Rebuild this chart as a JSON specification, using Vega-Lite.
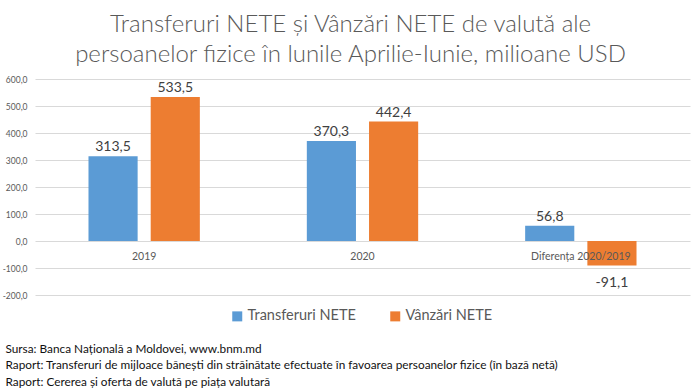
{
  "$schema": "https://vega.github.io/schema/vega-lite/v6.json",
  "width": 655,
  "height": 216,
  "autosize": {"type": "none"},
  "padding": {"left": 35, "top": 79, "right": 10, "bottom": 94},
  "background": "white",
  "config": {
    "locale": {"number": {"decimal": ",", "thousands": ".", "grouping": [3], "currency": ["", ""], "minus": "-"}},
    "view": {"stroke": null},
    "font": "Lato"
  },
  "title": {
    "text": ["Transferuri NETE și Vânzări NETE de valută ale", "persoanelor fizice în lunile Aprilie-Iunie, milioane USD"],
    "font": "Lato",
    "fontSize": 24,
    "fontWeight": 300,
    "color": "#595959",
    "lineHeight": 30,
    "anchor": "middle",
    "frame": "group",
    "dx": -12,
    "offset": 8
  },
  "data": {
    "values": [
      {"categorie": "2019", "serie": "Transferuri NETE", "valoare": 313.5},
      {"categorie": "2019", "serie": "Vânzări NETE", "valoare": 533.5},
      {"categorie": "2020", "serie": "Transferuri NETE", "valoare": 370.3},
      {"categorie": "2020", "serie": "Vânzări NETE", "valoare": 442.4},
      {"categorie": "Diferența 2020/2019", "serie": "Transferuri NETE", "valoare": 56.8},
      {"categorie": "Diferența 2020/2019", "serie": "Vânzări NETE", "valoare": -91.1}
    ]
  },
  "encoding": {
    "x": {
      "field": "categorie",
      "type": "nominal",
      "sort": null,
      "scale": {"paddingInner": 0.49, "paddingOuter": 0.245},
      "axis": {
        "orient": "bottom",
        "offset": -55,
        "domain": false,
        "ticks": false,
        "grid": false,
        "labelAngle": 0,
        "labelFont": "Lato",
        "labelFontSize": 10.5,
        "labelColor": "#595959",
        "labelPadding": 11,
        "zindex": 1,
        "title": ["Sursa: Banca Națională a Moldovei, www.bnm.md", "Raport: Transferuri de mijloace bănești din străinătate efectuate în favoarea persoanelor fizice (în bază netă)", "Raport: Cererea și oferta de valută pe piața valutară"],
        "titleFont": "Lato",
        "titleFontSize": 11.8,
        "titleFontWeight": "normal",
        "titleColor": "#111111",
        "titleAnchor": "start",
        "titleAlign": "left",
        "titleBaseline": "alphabetic",
        "titleX": -30,
        "titleY": 112,
        "titleLineHeight": 16.5
      }
    },
    "xOffset": {
      "field": "serie",
      "type": "nominal",
      "scale": {"paddingInner": 0.21, "paddingOuter": 0}
    },
    "y": {
      "field": "valoare",
      "type": "quantitative",
      "scale": {"domain": [-200, 600], "nice": false, "zero": false},
      "axis": {
        "values": [-200, -100, 0, 100, 200, 300, 400, 500, 600],
        "format": ".1f",
        "domain": false,
        "ticks": false,
        "gridColor": "#d9d9d9",
        "gridWidth": 1,
        "labelFont": "Lato",
        "labelFontSize": 8.5,
        "labelColor": "#595959",
        "labelPadding": 8,
        "title": null
      }
    }
  },
  "layer": [
    {
      "mark": {"type": "bar"},
      "encoding": {
        "color": {
          "field": "serie",
          "type": "nominal",
          "scale": {"domain": ["Transferuri NETE", "Vânzări NETE"], "range": ["#5B9BD5", "#ED7D31"]},
          "legend": {
            "title": null,
            "orient": "none",
            "direction": "horizontal",
            "legendX": 195,
            "legendY": 230,
            "symbolType": "square",
            "symbolSize": 100,
            "symbolStrokeWidth": 0,
            "labelFont": "Lato",
            "labelFontSize": 14.5,
            "labelColor": "#595959",
            "labelOffset": 3,
            "columnPadding": 32
          }
        }
      }
    },
    {
      "transform": [{"filter": "datum.valoare >= 0"}],
      "mark": {"type": "text", "baseline": "alphabetic", "dy": -5, "font": "Lato", "fontSize": 14, "color": "#404040"},
      "encoding": {"text": {"field": "valoare", "type": "quantitative", "format": ".1f"}}
    },
    {
      "transform": [{"filter": "datum.valoare < 0"}],
      "mark": {"type": "text", "baseline": "top", "dy": 10, "font": "Lato", "fontSize": 14, "color": "#404040"},
      "encoding": {"text": {"field": "valoare", "type": "quantitative", "format": ".1f"}}
    }
  ]
}
